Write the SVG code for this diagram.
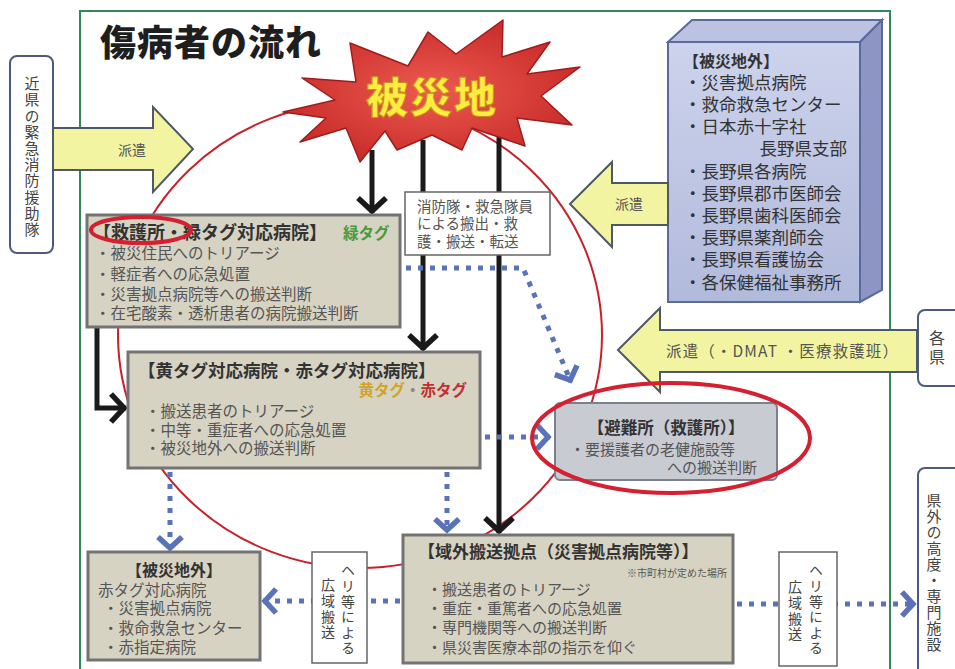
<svg xmlns="http://www.w3.org/2000/svg" width="955" height="669" viewBox="0 0 955 669">
<style>
text{font-family:'Noto Sans CJK JP','Noto Sans',sans-serif;}
.ttl{font-weight:bold;fill:#333;}
.ln{fill:#555;}
.box{fill:#d7d3c3;stroke:#737373;stroke-width:3;}
.yarrow{fill:#f2f4a2;stroke:#4d5a66;stroke-width:2;stroke-linejoin:miter;}
.lbl{fill:#fff;stroke:#4d5a80;stroke-width:2;}
.wbox{fill:#fff;stroke:#666;stroke-width:1.5;}
.blk{fill:none;stroke:#1a1a1a;stroke-width:5;}
.dot{fill:none;stroke:#5a72b8;stroke-width:5;stroke-dasharray:5 7;}
.redring{fill:none;stroke:#d42030;stroke-width:4;}
.vt{writing-mode:vertical-rl;text-orientation:upright;}
</style>
<defs>
<marker id="mblk" markerUnits="userSpaceOnUse" viewBox="-20 -20 40 40" markerWidth="40" markerHeight="40" refX="0" refY="0" orient="auto" overflow="visible">
<path d="M-15,-14 L-2,0 L-15,14" fill="none" stroke="#1a1a1a" stroke-width="5.5"/>
</marker>
<marker id="mblu" markerUnits="userSpaceOnUse" viewBox="-20 -20 40 40" markerWidth="40" markerHeight="40" refX="0" refY="0" orient="auto" overflow="visible">
<path d="M-13,-12 L-2,0 L-13,12" fill="none" stroke="#5a72b8" stroke-width="5.5"/>
</marker>
<radialGradient id="gburst" cx="50%" cy="50%" r="55%">
<stop offset="0" stop-color="#ec5a50"/>
<stop offset="1" stop-color="#c82a28"/>
</radialGradient>
<linearGradient id="gfront" x1="0" y1="0" x2="0" y2="1">
<stop offset="0" stop-color="#cdd3ec"/>
<stop offset="1" stop-color="#b2badc"/>
</linearGradient>
</defs>

<rect x="80" y="11" width="810" height="700" fill="none" stroke="#2e8b57" stroke-width="2"/>

<text x="100" y="56" class="ttl" style="font-size:36px;font-weight:900;fill:#1e1e1e" letter-spacing="1">傷病者の流れ</text>

<ellipse cx="360" cy="335" rx="242" ry="233" fill="none" stroke="#c8202a" stroke-width="2"/>

<g id="connectors">
<path class="blk" d="M372,150 L372,213" marker-end="url(#mblk)"/>
<path class="blk" d="M423,140 L423,350" marker-end="url(#mblk)"/>
<path class="blk" d="M499,132 L499,533" marker-end="url(#mblk)"/>
<path class="blk" d="M97,327 L97,408 L126,408" marker-end="url(#mblk)"/>
<path class="dot" d="M406,268 L523,268 L571,382" marker-end="url(#mblu)"/>
<path class="dot" d="M485,437 L550,437" marker-end="url(#mblu)"/>
<path class="dot" d="M447,472 L447,532" marker-end="url(#mblu)"/>
<path class="dot" d="M170,472 L170,550" marker-end="url(#mblu)"/>
<path class="dot" d="M400,601 L263,601" marker-end="url(#mblu)"/>
<path class="dot" d="M737,604 L915,604" marker-end="url(#mblu)"/>
</g>

<g id="disaster">
<polygon points="283,112 335,100 302,78 356,82 350,43 408,66 428,32 456,54 503,20 502,57 550,42 527,74 580,67 541,96 572,125 517,118 525,146 472,128 462,150 432,135 397,150 385,131 360,162 346,128 300,142 326,118" fill="url(#gburst)" stroke="#a01c1c" stroke-width="1.5" stroke-linejoin="round"/>
<text x="432" y="113" text-anchor="middle" style="font-size:42px;font-weight:900;fill:#ffec40;stroke:#c8901c;stroke-width:1" letter-spacing="2">被災地</text>
</g>

<g id="kinken">
<rect class="lbl" x="10" y="56" width="43" height="197" rx="7"/>
<text class="vt" x="32" y="76" style="font-size:15px;fill:#444" letter-spacing="1.2">近県の緊急消防援助隊</text>
</g>

<g id="haken-left">
<polygon class="yarrow" points="53,128 153,128 153,107 193,149 153,192 153,170 53,170"/>
<text x="118" y="155" style="font-size:14px;fill:#555">派遣</text>
</g>

<g id="outside-top">
<polygon points="668,42 692,20 882,20 860,42" fill="#bcc3e2" stroke="#5a6a9a" stroke-width="2"/>
<polygon points="860,42 882,20 882,290 860,302" fill="#8d95c4" stroke="#5a6a9a" stroke-width="2"/>
<rect x="668" y="42" width="192" height="260" fill="url(#gfront)" stroke="#5a6a9a" stroke-width="2"/>
<text x="683" y="67" class="ttl" style="font-size:16px">【被災地外】</text>
<g style="font-size:17.5px;fill:#333">
<text x="684" y="89">・災害拠点病院</text>
<text x="684" y="111">・救命救急センター</text>
<text x="684" y="133">・日本赤十字社</text>
<text x="847" y="155" text-anchor="end">長野県支部</text>
<text x="684" y="178">・長野県各病院</text>
<text x="684" y="200">・長野県郡市医師会</text>
<text x="684" y="222">・長野県歯科医師会</text>
<text x="684" y="244">・長野県薬剤師会</text>
<text x="684" y="266">・長野県看護協会</text>
<text x="684" y="289">・各保健福祉事務所</text>
</g>
</g>

<g id="haken-right">
<polygon class="yarrow" points="570,204 612,162 612,183 668,183 668,225 612,225 612,247"/>
<text x="615" y="209" style="font-size:14px;fill:#555">派遣</text>
</g>

<g id="haken-dmat">
<polygon class="yarrow" points="618,350 660,308 660,330 917,330 917,372 660,372 660,392"/>
<text x="666" y="357" style="font-size:15.5px;fill:#555" textLength="232" lengthAdjust="spacing">派遣（・DMAT ・医療救護班）</text>
</g>

<g id="kakken">
<rect class="lbl" x="918" y="310" width="50" height="76" rx="7"/>
<text class="vt" x="937" y="330" style="font-size:16px;fill:#444" letter-spacing="3">各県</text>
</g>

<g id="kengai">
<rect class="lbl" x="918" y="468" width="50" height="230" rx="7"/>
<text class="vt" x="934" y="493" style="font-size:15px;fill:#444" letter-spacing="1">県外の高度・専門施設</text>
</g>

<g id="note-mid">
<rect class="wbox" x="405" y="192" width="145" height="63"/>
<g style="font-size:14.5px;fill:#555">
<text x="417" y="212">消防隊・救急隊員</text>
<text x="417" y="229">による搬出・救</text>
<text x="417" y="247">護・搬送・転送</text>
</g>
</g>

<g id="green-tag">
<rect class="box" x="87" y="215" width="313" height="112"/>
<text x="93" y="239" class="ttl" style="font-size:18px">【救護所・緑タグ対応病院】</text>
<text x="343" y="239" style="font-size:15.5px;font-weight:bold;fill:#4a9a3a">緑タグ</text>
<g class="ln" style="font-size:15.5px">
<text x="95" y="259">・被災住民へのトリアージ</text>
<text x="95" y="280">・軽症者への応急処置</text>
<text x="95" y="300">・災害拠点病院等への搬送判断</text>
<text x="95" y="319">・在宅酸素・透析患者の病院搬送判断</text>
</g>
<ellipse class="redring" cx="141" cy="230" rx="50" ry="13"/>
</g>

<g id="yellow-red-tag">
<rect class="box" x="128" y="352" width="352" height="116"/>
<text x="138" y="377" class="ttl" style="font-size:17.5px">【黄タグ対応病院・赤タグ対応病院】</text>
<text x="467" y="396" text-anchor="end" style="font-size:15.5px;font-weight:bold"><tspan fill="#d0a428">黄タグ</tspan><tspan fill="#8a8a8a">・</tspan><tspan fill="#c03030">赤タグ</tspan></text>
<g class="ln" style="font-size:15.5px">
<text x="145" y="417">・搬送患者のトリアージ</text>
<text x="145" y="436">・中等・重症者への応急処置</text>
<text x="145" y="454">・被災地外への搬送判断</text>
</g>
</g>

<g id="shelter">
<rect x="555" y="403" width="222" height="77" rx="5" fill="#c9cbd3" stroke="#7a8090" stroke-width="2"/>
<text x="666" y="434" text-anchor="middle" class="ttl" style="font-size:16.5px">【避難所（救護所）】</text>
<text x="570" y="455" class="ln" style="font-size:15px">・要援護者の老健施設等</text>
<text x="757" y="473" text-anchor="end" class="ln" style="font-size:15px">への搬送判断</text>
<ellipse class="redring" cx="671" cy="438" rx="139" ry="55"/>
</g>

<g id="outside-bottom">
<rect class="box" x="88" y="552" width="172" height="108"/>
<text x="174" y="576" text-anchor="middle" class="ttl" style="font-size:16px">【被災地外】</text>
<g class="ln" style="font-size:15.5px">
<text x="98" y="596">赤タグ対応病院</text>
<text x="103" y="614">・災害拠点病院</text>
<text x="103" y="634">・救命救急センター</text>
<text x="103" y="653">・赤指定病院</text>
</g>
</g>

<g id="heli-left">
<rect class="wbox" x="312" y="552" width="55" height="111"/>
<g style="font-size:14px;fill:#444">
<text class="vt" x="348" y="563" letter-spacing="1.6">ヘリ等による</text>
<text class="vt" x="328" y="578" letter-spacing="1.6">広域搬送</text>
</g>
</g>

<g id="transport-base">
<rect class="box" x="403" y="535" width="330" height="128"/>
<text x="418" y="558" class="ttl" style="font-size:17px">【域外搬送拠点（災害拠点病院等）】</text>
<text x="727" y="577" text-anchor="end" class="ln" style="font-size:10px">※市町村が定めた場所</text>
<g class="ln" style="font-size:15px">
<text x="427" y="595">・搬送患者のトリアージ</text>
<text x="427" y="614">・重症・重篤者への応急処置</text>
<text x="427" y="633">・専門機関等への搬送判断</text>
<text x="427" y="653">・県災害医療本部の指示を仰ぐ</text>
</g>
</g>

<g id="heli-right">
<rect class="wbox" x="779" y="552" width="58" height="114"/>
<g style="font-size:14px;fill:#444">
<text class="vt" x="816" y="563" letter-spacing="1.6">ヘリ等による</text>
<text class="vt" x="795" y="580" letter-spacing="1.6">広域搬送</text>
</g>
</g>
</svg>
